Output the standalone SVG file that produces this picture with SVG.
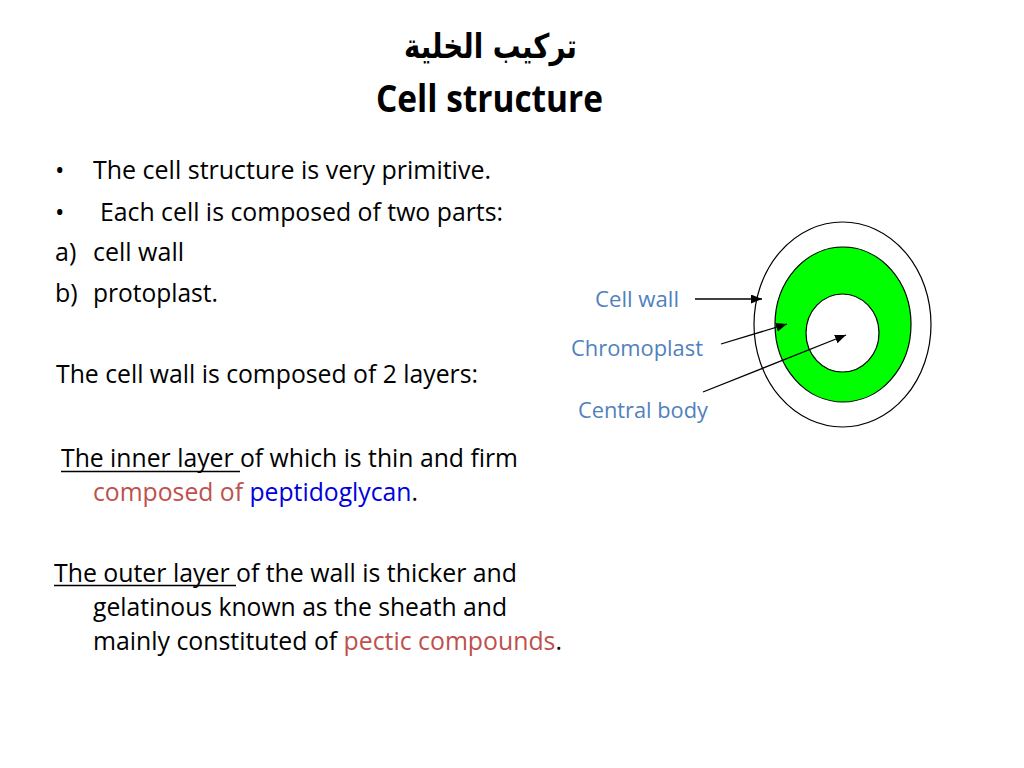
<svg xmlns="http://www.w3.org/2000/svg" width="1024" height="768" viewBox="0 0 1024 768">
<style>
.t{font-family:"Open Sans","Noto Sans","Liberation Sans",sans-serif;font-size:25px;fill:#000}
.lbl{font-family:"Open Sans","Noto Sans","Liberation Sans",sans-serif;font-size:21px;fill:#4F81BD}
.red{fill:#C0504D}
.blue{fill:#0000DD}
.conn{stroke:#000;stroke-width:1.3;fill:none;marker-end:url(#ah)}
.ul{stroke:#000;stroke-width:1.5}
</style>
<defs>
<marker id="ah" markerUnits="userSpaceOnUse" markerWidth="12" markerHeight="10" refX="11" refY="4.5" orient="auto">
<path d="M0,0 L11,4.5 L0,9 z" fill="#000"/>
</marker>
</defs>
<rect width="1024" height="768" fill="#fff"/>
<g id="title">
<text x="490.5" y="58" text-anchor="middle" font-family="'DejaVu Sans',sans-serif" font-weight="bold" font-size="34" textLength="173" lengthAdjust="spacingAndGlyphs" direction="rtl">تركيب الخلية</text>
<text x="376" y="112" font-family="'Open Sans','Noto Sans',sans-serif" font-weight="bold" font-size="38" textLength="227" lengthAdjust="spacingAndGlyphs">Cell structure</text>
</g>
<g id="body-text">
<text class="t" x="55" y="179">•</text>
<text class="t" x="93" y="179" textLength="398" lengthAdjust="spacingAndGlyphs">The cell structure is very primitive.</text>
<text class="t" x="55" y="221">•</text>
<text class="t" x="100" y="221" textLength="403" lengthAdjust="spacingAndGlyphs">Each cell is composed of two parts:</text>
<text class="t" x="55" y="261">a)</text>
<text class="t" x="93" y="261" textLength="91" lengthAdjust="spacingAndGlyphs">cell wall</text>
<text class="t" x="55" y="302">b)</text>
<text class="t" x="93" y="302" textLength="125" lengthAdjust="spacingAndGlyphs">protoplast.</text>
<text class="t" x="56" y="383" textLength="422" lengthAdjust="spacingAndGlyphs">The cell wall is composed of 2 layers:</text>
<text class="t" x="61" y="467" textLength="457" lengthAdjust="spacingAndGlyphs">The inner layer of which is thin and firm</text>
<line class="ul" x1="61" y1="471.5" x2="240" y2="471.5"/>
<text class="t" x="93" y="501" textLength="325" lengthAdjust="spacingAndGlyphs"><tspan class="red">composed of </tspan><tspan class="blue">peptidoglycan</tspan>.</text>
<text class="t" x="54" y="582" textLength="463" lengthAdjust="spacingAndGlyphs">The outer layer of the wall is thicker and</text>
<line class="ul" x1="54" y1="585.5" x2="236" y2="585.5"/>
<text class="t" x="93" y="616" textLength="414" lengthAdjust="spacingAndGlyphs">gelatinous known as the sheath and</text>
<text class="t" x="93" y="650" textLength="469" lengthAdjust="spacingAndGlyphs">mainly constituted of <tspan class="red">pectic compounds</tspan>.</text>
</g>
<g id="cell">
<ellipse id="outer-wall" cx="842.5" cy="324.5" rx="88.5" ry="102.5" fill="#fff" stroke="#000" stroke-width="1.2"/>
<ellipse id="chromoplast" cx="843" cy="324.5" rx="68" ry="77.5" fill="#00FF00" stroke="#000" stroke-width="1.2"/>
<ellipse id="central-body" cx="842.5" cy="333" rx="36.5" ry="39" fill="#fff" stroke="#000" stroke-width="1.2"/>
</g>
<g id="label-cell-wall"><text class="lbl" x="595" y="307" textLength="84" lengthAdjust="spacingAndGlyphs">Cell wall</text></g>
<g id="label-chromoplast"><text class="lbl" x="571" y="356" textLength="132" lengthAdjust="spacingAndGlyphs">Chromoplast</text></g>
<g id="label-central-body"><text class="lbl" x="578" y="418" textLength="130" lengthAdjust="spacingAndGlyphs">Central body</text></g>
<g id="connectors">
<line class="conn" x1="695" y1="299" x2="762" y2="299"/>
<line class="conn" x1="721" y1="344" x2="787" y2="324"/>
<line class="conn" x1="703" y1="392" x2="846" y2="335"/>
</g>
</svg>
